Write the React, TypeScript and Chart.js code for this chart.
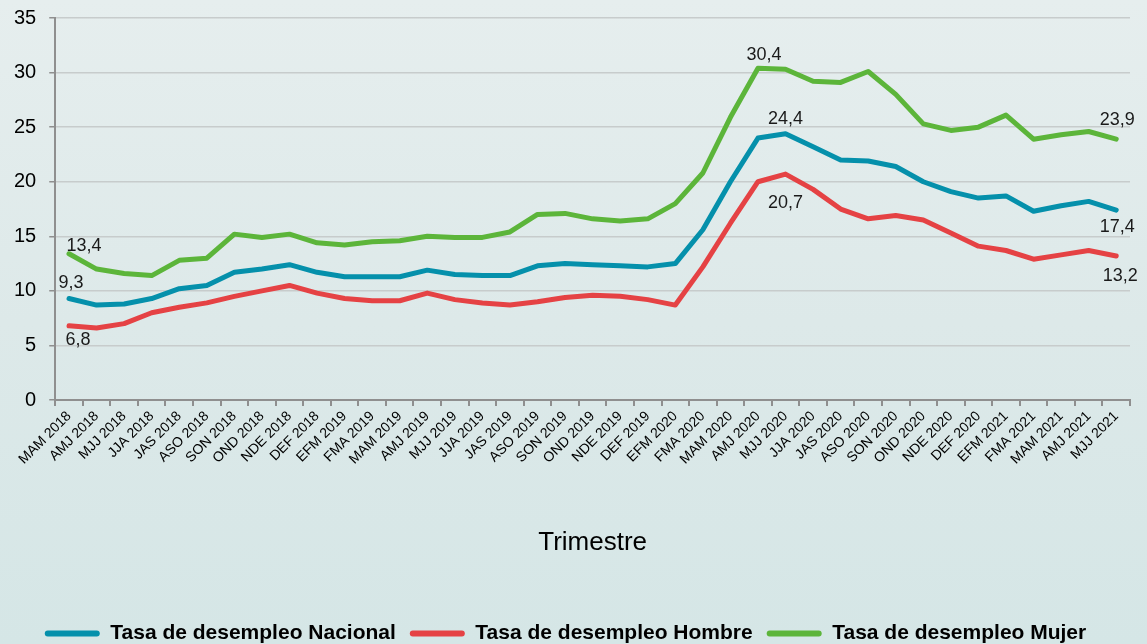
import React, { useEffect, useRef } from "react";
import { Chart, registerables } from "chart.js";

Chart.register(...registerables);

const categories = [
  "MAM 2018", "AMJ 2018", "MJJ 2018", "JJA 2018", "JAS 2018", "ASO 2018", "SON 2018", "OND 2018", "NDE 2018", "DEF 2018",
  "EFM 2019", "FMA 2019", "MAM 2019", "AMJ 2019", "MJJ 2019", "JJA 2019", "JAS 2019", "ASO 2019", "SON 2019", "OND 2019",
  "NDE 2019", "DEF 2019", "EFM 2020", "FMA 2020", "MAM 2020", "AMJ 2020", "MJJ 2020", "JJA 2020", "JAS 2020", "ASO 2020",
  "SON 2020", "OND 2020", "NDE 2020", "DEF 2020", "EFM 2021", "FMA 2021", "MAM 2021", "AMJ 2021", "MJJ 2021",
];

const nacional = [
  9.3, 8.7, 8.8, 9.3, 10.2, 10.5, 11.7, 12.0, 12.4, 11.7, 11.3, 11.3, 11.3,
  11.9, 11.5, 11.4, 11.4, 12.3, 12.5, 12.4, 12.3, 12.2, 12.5, 15.6, 20.0, 24.0,
  24.4, 23.2, 22.0, 21.9, 21.4, 20.0, 19.1, 18.5, 18.7, 17.3, 17.8, 18.2, 17.4,
];

const hombre = [
  6.8, 6.6, 7.0, 8.0, 8.5, 8.9, 9.5, 10.0, 10.5, 9.8, 9.3, 9.1, 9.1,
  9.8, 9.2, 8.9, 8.7, 9.0, 9.4, 9.6, 9.5, 9.2, 8.7, 12.2, 16.2, 20.0,
  20.7, 19.3, 17.5, 16.6, 16.9, 16.5, 15.3, 14.1, 13.7, 12.9, 13.3, 13.7, 13.2,
];

const mujer = [
  13.4, 12.0, 11.6, 11.4, 12.8, 13.0, 15.2, 14.9, 15.2, 14.4, 14.2, 14.5, 14.6,
  15.0, 14.9, 14.9, 15.4, 17.0, 17.1, 16.6, 16.4, 16.6, 18.0, 20.8, 25.9, 30.4,
  30.3, 29.2, 29.1, 30.1, 28.0, 25.3, 24.7, 25.0, 26.1, 23.9, 24.3, 24.6, 23.9,
];

const seriesNames = ["Tasa de desempleo Nacional", "Tasa de desempleo Hombre", "Tasa de desempleo Mujer"];
const seriesColors = ["#0590ab", "#e54244", "#5cb53a"];

const yTicks = [0, 5, 10, 15, 20, 25, 30, 35];

// which points carry a value label (series index, point index)
const labelSeries = [0, 0, 0, 1, 1, 1, 2, 2, 2];
const labelIndex = [0, 26, 38, 0, 26, 38, 0, 25, 38];
// label offsets (style)
const labelDx = [2, 0, 1, 9, 0, 4, 15, 6, 1];
const labelDy = [-16, -15, 17, 14, 29, 20, -8, -13, -19];

const valueLabelsPlugin = {
  id: "valueLabels",
  afterDatasetsDraw(chart: any) {
    const ctx = chart.ctx;
    ctx.save();
    ctx.font = "18px 'Liberation Sans', Arial, sans-serif";
    ctx.fillStyle = "#1a1a1a";
    ctx.textAlign = "center";
    ctx.textBaseline = "middle";
    labelSeries.forEach((s, k) => {
      const i = labelIndex[k];
      const meta = chart.getDatasetMeta(s);
      const pt = meta.data[i];
      const v = chart.data.datasets[s].data[i] as number;
      const txt = v.toFixed(1).replace(".", ",");
      ctx.fillText(txt, pt.x + labelDx[k], pt.y + labelDy[k]);
    });
    ctx.restore();
  },
};

export default function App() {
  const canvasRef = useRef<HTMLCanvasElement | null>(null);

  useEffect(() => {
    document.body.style.margin = "0";
    const canvas = canvasRef.current;
    if (!canvas) return;
    const data = [nacional, hombre, mujer];
    const chart = new Chart(canvas, {
      type: "line",
      data: {
        labels: categories,
        datasets: data.map((d, k) => ({
          label: seriesNames[k],
          data: d,
          borderColor: seriesColors[k],
          backgroundColor: seriesColors[k],
          borderWidth: 5,
          pointRadius: 0,
          pointHoverRadius: 0,
          tension: 0,
          fill: false,
          borderCapStyle: "round" as const,
          borderJoinStyle: "round" as const,
        })),
      },
      options: {
        responsive: false,
        animation: false,
        maintainAspectRatio: false,
        layout: { padding: { left: 1, right: 17, top: 1, bottom: -10 } },
        plugins: {
          tooltip: { enabled: false },
          legend: {
            position: "bottom",
            labels: {
              boxWidth: 55,
              boxHeight: 6,
              padding: 14,
              color: "#000",
              useBorderRadius: true,
              borderRadius: 3,
              font: { family: "'Liberation Sans', Arial, sans-serif", size: 21, weight: "bold" },
              generateLabels: (ch: any) =>
                ch.data.datasets.map((ds: any, i: number) => ({
                  text: ds.label,
                  fillStyle: seriesColors[i],
                  strokeStyle: seriesColors[i],
                  lineWidth: 0,
                  hidden: false,
                  datasetIndex: i,
                  borderRadius: 3,
                })),
            },
          },
        },
        scales: {
          x: {
            type: "category",
            offset: true,
            grid: {
              display: true,
              drawOnChartArea: false,
              drawTicks: true,
              tickLength: 6,
              offset: true,
              color: "#8f8f8f",
              lineWidth: 2,
            },
            border: { display: true, color: "#8f8f8f", width: 2 },
            ticks: {
              autoSkip: false,
              maxRotation: 45,
              minRotation: 45,
              padding: 2,
              color: "#000",
              font: { family: "'Liberation Sans', Arial, sans-serif", size: 14 },
            },
            title: {
              display: true,
              text: "Trimestre",
              color: "#000",
              font: { family: "'Liberation Sans', Arial, sans-serif", size: 26 },
              padding: { top: 57, bottom: 51 },
            },
          },
          y: {
            min: 0,
            max: 35,
            afterBuildTicks: (axis: any) => {
              axis.ticks = yTicks.map((v) => ({ value: v }));
            },
            grid: {
              color: "#c7cccc",
              lineWidth: 1.5,
              tickColor: "#8f8f8f",
              tickLength: 6,
              drawTicks: true,
            },
            border: { display: true, color: "#8f8f8f", width: 2 },
            ticks: {
              padding: 13,
              color: "#000",
              font: { family: "'Liberation Sans', Arial, sans-serif", size: 20 },
            },
          },
        },
      },
      plugins: [valueLabelsPlugin],
    });
    return () => chart.destroy();
  }, []);

  return (
    <div
      style={{
        width: 1147,
        height: 644,
        overflow: "hidden",
        background: "linear-gradient(180deg, #e6eeee 0%, #dde9e9 50%, #d5e6e6 100%)",
      }}
    >
      <canvas ref={canvasRef} width={1147} height={651} style={{ display: "block", marginTop: -7 }} />
    </div>
  );
}
